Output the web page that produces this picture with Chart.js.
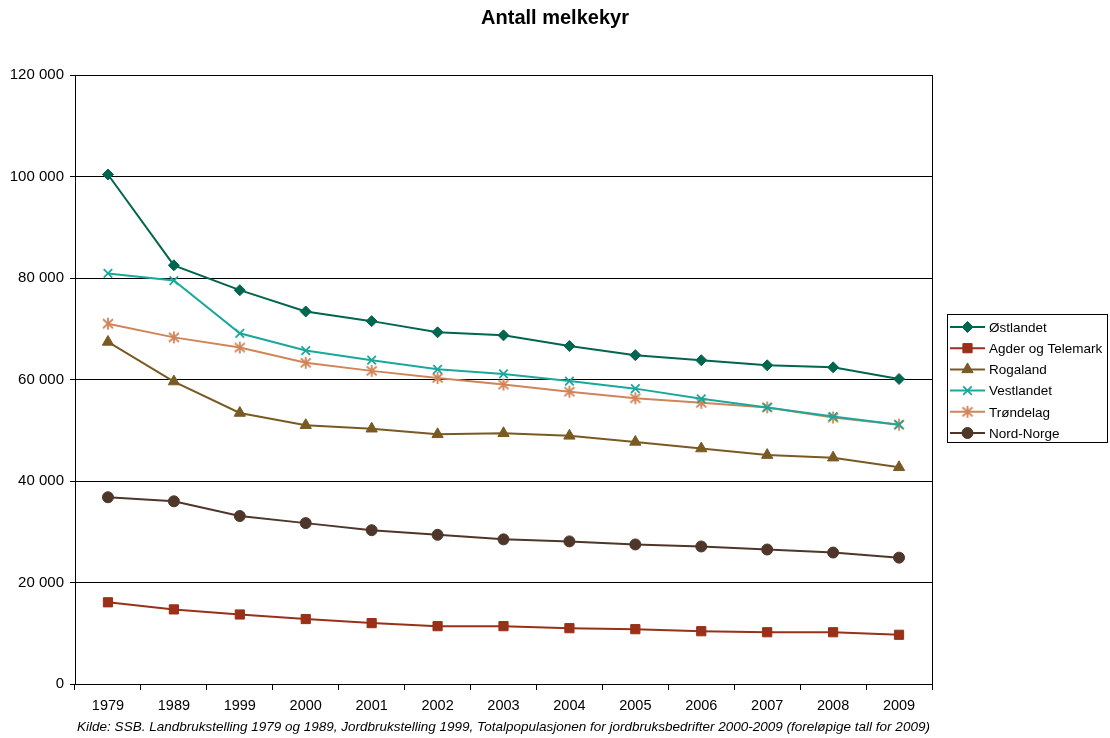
<!DOCTYPE html>
<html>
<head>
<meta charset="utf-8">
<script src="https://cdn.jsdelivr.net/npm/chart.js@4/dist/chart.umd.min.js"></script>
<style>
  html, body { margin: 0; padding: 0; background: #fff; }
  #wrap { width: 1110px; height: 738px; }
</style>
</head>
<body>
<div id="wrap"><canvas id="melkChart" width="1110" height="738"></canvas></div>
<script>
// ---- data ----
const years = ["1979", "1989", "1999", "2000", "2001", "2002", "2003", "2004", "2005", "2006", "2007", "2008", "2009"];

const ostlandet   = [100400, 82500, 77600, 73400, 71500, 69300, 68700, 66600, 64800, 63800, 62800, 62400, 60100];
const agder       = [16100, 14700, 13700, 12800, 12000, 11400, 11400, 11000, 10800, 10400, 10200, 10200, 9700];
const rogaland    = [67400, 59600, 53400, 51000, 50300, 49200, 49400, 48900, 47700, 46400, 45100, 44600, 42700];
const vestlandet  = [80900, 79500, 69100, 65700, 63800, 62000, 61100, 59700, 58200, 56200, 54500, 52700, 51100];
const trondelag   = [71000, 68300, 66300, 63300, 61700, 60300, 59000, 57600, 56300, 55400, 54500, 52500, 51100];
const nordNorge   = [36800, 36000, 33100, 31700, 30300, 29400, 28500, 28100, 27500, 27100, 26500, 25900, 24900];

const yTicks = [0, 20000, 40000, 60000, 80000, 100000, 120000];

const TITLE = "Antall melkekyr";
const SOURCE = "Kilde: SSB. Landbrukstelling 1979 og 1989, Jordbrukstelling 1999, Totalpopulasjonen for jordbruksbedrifter 2000-2009 (foreløpige tall for 2009)";

// asterisk marker (x + vertical bar)
function makeStar(color) {
  const c = document.createElement("canvas");
  c.width = 14; c.height = 14;
  const g = c.getContext("2d");
  g.strokeStyle = color;
  g.lineWidth = 1.8;
  g.beginPath();
  g.moveTo(2, 2.5); g.lineTo(12, 11.5);
  g.moveTo(12, 2.5); g.lineTo(2, 11.5);
  g.moveTo(7, 1); g.lineTo(7, 13);
  g.stroke();
  return c;
}

function fmt(v) {
  return String(v).replace(/\B(?=(\d{3})+(?!\d))/g, " ");
}

function series(label, data, color, style, radius) {
  return {
    label: label,
    data: data,
    borderColor: color,
    backgroundColor: color,
    borderWidth: 2,
    pointStyle: style,
    pointRadius: radius,
    pointBorderWidth: style === "crossRot" ? 1.8 : 1,
    pointBorderColor: color,
    pointBackgroundColor: color,
    tension: 0,
    fill: false,
  };
}

const datasets = [
  series("Østlandet", ostlandet, "#00664f", "rectRot", 5.5),
  series("Agder og Telemark", agder, "#993018", "rect", 6.5),
  series("Rogaland", rogaland, "#7a5a23", "triangle", 6.5),
  series("Vestlandet", vestlandet, "#1aa89c", "crossRot", 6),
  series("Trøndelag", trondelag, "#d08558", makeStar("#d08558"), 7),
  series("Nord-Norge", nordNorge, "#4e362a", "circle", 5.5),
];

// ---- extras: frame, title, legend, source ----
const extras = {
  id: "extras",
  afterDraw(chart) {
    const ctx = chart.ctx;
    const a = chart.chartArea;
    ctx.save();
    // frame
    ctx.strokeStyle = "#000";
    ctx.lineWidth = 1;
    ctx.strokeRect(Math.round(a.left) + 0.5, Math.round(a.top) + 0.5, Math.round(a.right - a.left), Math.round(a.bottom - a.top));

    // title
    ctx.fillStyle = "#000";
    ctx.font = "bold 20px 'Liberation Sans', Arial, sans-serif";
    ctx.textAlign = "center";
    ctx.textBaseline = "middle";
    ctx.fillText(TITLE, 555, 18);

    // source
    ctx.font = "italic 13.5px 'Liberation Sans', Arial, sans-serif";
    ctx.fillText(SOURCE, (a.left + a.right) / 2, 727);

    // legend
    const lx = 947.5, ly = 314.5, lw = 160, lh = 128;
    ctx.fillStyle = "#fff";
    ctx.fillRect(lx, ly, lw, lh);
    ctx.strokeStyle = "#000";
    ctx.strokeRect(lx, ly, lw, lh);
    ctx.font = "13.5px 'Liberation Sans', Arial, sans-serif";
    ctx.textAlign = "left";
    chart.data.datasets.forEach((ds, i) => {
      const y = 327 + i * 21.2;
      ctx.strokeStyle = ds.borderColor;
      ctx.lineWidth = 2;
      ctx.beginPath();
      ctx.moveTo(950, y);
      ctx.lineTo(985, y);
      ctx.stroke();
      ctx.fillStyle = ds.borderColor;
      ctx.lineWidth = ds.pointBorderWidth;
      Chart.helpers.drawPoint(ctx, { pointStyle: ds.pointStyle, radius: ds.pointRadius, rotation: 0, borderWidth: ds.pointBorderWidth }, 967.5, y);
      ctx.fillStyle = "#000";
      ctx.fillText(ds.label, 989, y + 1);
    });
    ctx.restore();
  },
};

const ctx = document.getElementById("melkChart").getContext("2d");
new Chart(ctx, {
  type: "line",
  data: { labels: years, datasets: datasets },
  options: {
    responsive: false,
    animation: false,
    layout: { padding: { left: 0, right: 178, top: 75, bottom: 26 } },
    plugins: {
      legend: { display: false },
      title: { display: false },
      tooltip: { enabled: false },
    },
    scales: {
      x: {
        type: "category",
        offset: true,
        grid: {
          offset: true,
          drawOnChartArea: false,
          drawTicks: true,
          tickLength: 6,
          color: "#000",
        },
        border: { display: true, color: "#000", width: 1 },
        ticks: {
          color: "#000",
          padding: 7,
          maxRotation: 0,
          font: { family: "'Liberation Sans', Arial, sans-serif", size: 14.5 },
        },
        afterFit(scale) { scale.height = 28; },
      },
      y: {
        min: 0,
        max: 120000,
        afterBuildTicks(scale) { scale.ticks = yTicks.map(v => ({ value: v })); },
        grid: {
          color: "#000",
          lineWidth: 1,
          drawTicks: true,
          tickLength: 5,
        },
        border: { display: true, color: "#000", width: 1 },
        ticks: {
          color: "#000",
          padding: 6,
          callback: (v) => fmt(v),
          font: { family: "'Liberation Sans', Arial, sans-serif", size: 15 },
        },
        afterFit(scale) { scale.width = 75; },
      },
    },
  },
  plugins: [extras],
});
</script>
</body>
</html>
